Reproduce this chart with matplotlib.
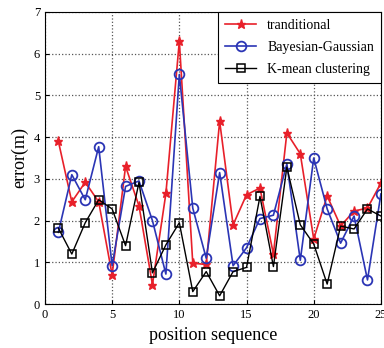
import matplotlib
matplotlib.use("Agg")
from matplotlib import pyplot as plt

plt.rcParams['font.family'] = ['Liberation Serif', 'DejaVu Serif']

positions = list(range(1, 26))
traditional = [3.9, 2.45, 2.92, 2.45, 0.7, 3.3, 2.35, 0.47, 2.65, 6.3,
               0.98, 0.95, 4.38, 1.9, 2.62, 2.78, 1.2, 4.1, 3.6, 1.56,
               2.59, 1.87, 2.23, 2.3, 2.9]
bayesian = [1.72, 3.1, 2.5, 3.77, 0.92, 2.82, 2.95, 2.0, 0.72, 5.5,
            2.3, 1.1, 3.15, 0.92, 1.35, 2.05, 2.13, 3.36, 1.05, 3.5,
            2.28, 1.46, 2.11, 0.58, 2.64]
kmean = [1.82, 1.2, 1.95, 2.5, 2.28, 1.4, 2.92, 0.75, 1.42, 1.95,
         0.3, 0.78, 0.2, 0.78, 0.88, 2.58, 0.9, 3.28, 1.9, 1.44,
         0.48, 1.87, 1.8, 2.28, 2.11]

fig = plt.figure(figsize=(3.84, 3.48), dpi=100)
ax = fig.add_axes([0.117, 0.126, 0.875, 0.84])

ax.plot(positions, traditional, color='#e8202a', marker='*', markersize=6.5,
        linewidth=1.2, label='tranditional')
ax.plot(positions, bayesian, color='#2b35b5', marker='o', markersize=7,
        markerfacecolor='none', markeredgewidth=1.3, linewidth=1.2,
        label='Bayesian-Gaussian')
ax.plot(positions, kmean, color='black', marker='s', markersize=6,
        markerfacecolor='none', markeredgewidth=1.1, linewidth=1.0,
        label='K-mean clustering')

ax.set_xlim(0, 25)
ax.set_ylim(0, 7)
ax.set_xticks([0, 5, 10, 15, 20, 25])
ax.set_yticks(range(0, 8))
ax.tick_params(direction='in', labelsize=9, length=3)
ax.grid(True, linestyle=':', color='#555555', linewidth=0.9)
ax.set_xlabel('position sequence', fontsize=13, labelpad=4)
ax.set_ylabel('error(m)', fontsize=13, labelpad=4)

leg = ax.legend(loc='upper right', borderaxespad=0, fancybox=False,
                edgecolor='black', fontsize=10, handlelength=2.2,
                labelspacing=0.65, borderpad=0.5)
leg.get_frame().set_linewidth(0.8)
leg.get_frame().set_alpha(1)

fig.savefig('out.png', dpi=100)
